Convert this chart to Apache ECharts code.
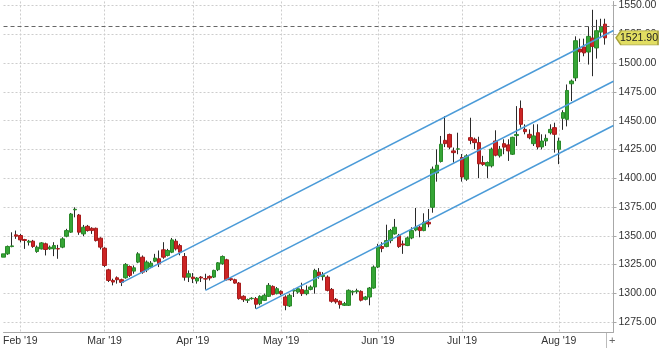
<!DOCTYPE html>
<html><head><meta charset="utf-8">
<script src="https://cdn.jsdelivr.net/npm/echarts@6/dist/echarts.min.js"></script>
<style>html,body{margin:0;padding:0;background:#fff}#c{width:660px;height:348px}</style>
</head><body><div id="c"></div>
<script>
const categories = [
'2019-01-28','2019-01-29','2019-01-30','2019-01-31',
'2019-02-01','2019-02-04','2019-02-05','2019-02-06','2019-02-07','2019-02-08','2019-02-11','2019-02-12','2019-02-13','2019-02-14','2019-02-15','2019-02-18','2019-02-19','2019-02-20','2019-02-21','2019-02-22','2019-02-25','2019-02-26','2019-02-27','2019-02-28',
'2019-03-01','2019-03-04','2019-03-05','2019-03-06','2019-03-07','2019-03-08','2019-03-11','2019-03-12','2019-03-13','2019-03-14','2019-03-15','2019-03-18','2019-03-19','2019-03-20','2019-03-21','2019-03-22','2019-03-25','2019-03-26','2019-03-27','2019-03-28','2019-03-29',
'2019-04-01','2019-04-02','2019-04-03','2019-04-04','2019-04-05','2019-04-08','2019-04-09','2019-04-10','2019-04-11','2019-04-12','2019-04-15','2019-04-16','2019-04-17','2019-04-18','2019-04-22','2019-04-23','2019-04-24','2019-04-25','2019-04-26','2019-04-29','2019-04-30',
'2019-05-01','2019-05-02','2019-05-03','2019-05-06','2019-05-07','2019-05-08','2019-05-09','2019-05-10','2019-05-13','2019-05-14','2019-05-15','2019-05-16','2019-05-17','2019-05-20','2019-05-21','2019-05-22','2019-05-23','2019-05-24','2019-05-27','2019-05-28','2019-05-29','2019-05-30','2019-05-31',
'2019-06-03','2019-06-04','2019-06-05','2019-06-06','2019-06-07','2019-06-10','2019-06-11','2019-06-12','2019-06-13','2019-06-14','2019-06-17','2019-06-18','2019-06-19','2019-06-20','2019-06-21','2019-06-24','2019-06-25','2019-06-26','2019-06-27','2019-06-28',
'2019-07-01','2019-07-02','2019-07-03','2019-07-04','2019-07-05','2019-07-08','2019-07-09','2019-07-10','2019-07-11','2019-07-12','2019-07-15','2019-07-16','2019-07-17','2019-07-18','2019-07-19','2019-07-22','2019-07-23','2019-07-24','2019-07-25','2019-07-26','2019-07-29','2019-07-30','2019-07-31',
'2019-08-01','2019-08-02','2019-08-05','2019-08-06','2019-08-07','2019-08-08','2019-08-09','2019-08-12','2019-08-13','2019-08-14','2019-08-15','2019-08-16','2019-08-19','2019-08-20'
];

const opens = [
1331.4,1334.3,1340.6,1350.8,1350.2,1346.7,1344.4,1345.3,1336.3,1338.6,
1343.0,1338.6,1338.6,1338.8,1340.1,1349.6,1353.1,1372.5,1368.0,1351.6,
1358.2,1356.5,1356.5,1347.9,1339.2,1320.4,1311.2,1313.5,1311.8,1313.5,
1323.3,1319.3,1327.1,1331.4,1320.4,1322.8,1327.9,1330.0,1337.8,1332.9,
1335.7,1345.3,1341.5,1332.0,1314.1,1314.1,1310.7,1314.1,1312.7,1314.7,
1314.1,1320.5,1325.7,1329.1,1312.7,1311.8,1308.9,1297.4,1294.0,1295.4,
1295.4,1291.0,1293.9,1297.4,1306.0,1299.7,1301.7,1296.8,1289.0,1302.0,
1301.1,1303.2,1299.7,1303.4,1305.5,1318.4,1314.5,1314.1,1303.4,1294.8,
1293.1,1289.6,1289.6,1301.1,1301.4,1301.7,1294.8,1296.8,1304.6,1322.8,
1340.6,1340.6,1345.8,1351.6,1350.2,1342.9,1341.5,1348.1,1355.0,1357.4,
1354.5,1361.7,1374.7,1404.5,1414.5,1432.9,1438.0,1423.7,1425.2,1418.0,
1399.2,1435.2,1433.8,1430.9,1413.6,1410.7,1410.7,1432.3,1419.4,1430.0,
1428.9,1420.8,1437.0,1460.6,1442.4,1438.1,1430.0,1439.5,1427.1,1432.3,
1439.5,1443.9,1425.1,1452.0,1451.1,1482.0,1487.1,1512.2,1514.0,1509.6,
1521.7,1513.1,1526.9,1533.8
];
const closes = [
1334.3,1340.7,1341.2,1349.6,1346.4,1345.9,1345.3,1340.7,1340.1,1343.8,
1338.1,1340.1,1341.5,1338.5,1347.3,1354.5,1368.9,1373.0,1353.1,1357.4,
1354.5,1354.5,1345.8,1340.1,1324.2,1311.2,1309.8,1311.8,1309.5,1325.1,
1315.6,1322.2,1334.3,1318.4,1327.1,1326.2,1330.6,1325.6,1331.4,1337.2,
1346.4,1338.6,1335.7,1314.0,1317.0,1312.7,1313.3,1313.3,1312.4,1313.3,
1319.9,1326.5,1332.0,1311.8,1311.8,1308.9,1295.4,1294.5,1294.5,1295.7,
1290.5,1297.4,1298.3,1306.9,1299.1,1304.0,1299.7,1289.6,1298.3,1302.6,
1304.0,1299.7,1302.6,1305.5,1319.9,1315.0,1316.0,1302.6,1293.1,1292.5,
1290.2,1291.0,1302.6,1301.7,1302.3,1294.0,1296.8,1304.6,1322.8,1340.5,
1339.0,1345.8,1354.5,1357.4,1340.6,1342.0,1348.1,1354.5,1357.4,1354.5,
1361.7,1360.2,1407.8,1411.3,1429.5,1430.0,1427.0,1422.2,1425.5,1401.0,
1419.4,1432.9,1430.9,1412.5,1412.0,1413.6,1425.2,1420.0,1425.2,1427.0,
1423.7,1435.5,1438.0,1446.8,1440.4,1435.2,1436.7,1427.1,1432.3,1434.6,
1442.4,1438.1,1432.3,1457.0,1476.2,1484.4,1519.4,1509.6,1508.8,1523.2,
1514.5,1528.1,1531.8,1521.9
];
const lows = [
1329.4,1333.4,1340.0,1347.3,1344.4,1338.6,1341.5,1339.5,1335.2,1338.1,
1332.9,1337.8,1332.3,1330.0,1339.2,1348.7,1352.5,1366.0,1350.8,1349.6,
1353.6,1351.6,1345.0,1338.1,1322.8,1309.8,1306.9,1308.4,1306.3,1312.7,
1314.1,1317.0,1326.2,1317.0,1318.4,1321.9,1327.1,1322.8,1330.0,1332.0,
1334.9,1337.2,1333.0,1311.0,1309.8,1308.9,1308.4,1309.8,1303.2,1311.2,
1313.3,1319.3,1324.8,1311.2,1310.7,1308.4,1294.5,1292.5,1291.6,1294.5,
1286.7,1289.6,1293.3,1296.8,1298.3,1299.1,1298.3,1285.3,1288.1,1296.8,
1299.7,1297.7,1298.3,1302.6,1299.7,1312.7,1311.2,1301.7,1291.9,1291.0,
1286.7,1289.0,1289.0,1298.3,1299.7,1293.0,1293.9,1289.6,1304.0,1321.9,
1335.7,1340.0,1343.5,1351.0,1339.5,1334.3,1341.0,1347.0,1353.9,1348.7,
1353.9,1357.4,1370.0,1397.0,1413.6,1427.0,1425.2,1413.6,1420.8,1397.0,
1397.7,1429.5,1425.2,1400.0,1410.7,1400.0,1409.3,1419.0,1417.9,1420.8,
1415.0,1420.2,1428.0,1443.9,1438.1,1433.8,1428.0,1425.0,1425.0,1428.0,
1438.0,1422.2,1412.2,1442.0,1445.0,1467.0,1484.3,1501.0,1505.9,1498.7,
1488.6,1503.9,1521.7,1516.0
];
const highs = [
1335.8,1341.5,1353.0,1354.5,1351.6,1347.3,1346.4,1346.4,1341.5,1344.4,
1344.0,1341.5,1344.4,1342.1,1348.7,1356.0,1369.8,1374.7,1368.9,1359.4,
1359.4,1357.4,1357.1,1348.7,1340.1,1321.3,1312.7,1314.7,1312.7,1326.2,
1324.2,1324.2,1335.7,1332.9,1328.5,1328.0,1334.3,1337.2,1344.4,1338.6,
1348.1,1347.3,1343.0,1335.0,1319.9,1317.6,1314.1,1315.0,1317.0,1315.6,
1320.5,1327.1,1332.9,1330.0,1313.5,1312.7,1309.8,1298.3,1295.4,1296.6,
1296.8,1298.3,1299.7,1308.9,1306.9,1305.5,1302.6,1298.3,1299.7,1304.0,
1305.5,1309.2,1306.9,1306.9,1321.3,1321.9,1318.4,1315.6,1304.6,1295.9,
1293.9,1292.5,1303.4,1302.6,1304.0,1302.6,1297.7,1305.5,1324.2,1343.0,
1344.4,1359.6,1355.9,1364.6,1351.6,1345.8,1349.3,1357.4,1374.1,1358.8,
1369.5,1373.2,1410.1,1425.0,1436.7,1454.0,1438.7,1426.6,1439.5,1421.0,
1420.8,1452.5,1435.2,1436.0,1419.4,1414.5,1426.6,1441.6,1428.0,1433.8,
1433.8,1436.0,1462.6,1467.5,1446.8,1442.4,1446.8,1446.8,1438.1,1438.0,
1446.8,1448.2,1435.2,1459.0,1481.4,1485.7,1523.2,1521.2,1521.2,1531.8,
1546.3,1537.6,1538.5,1538.5
];

const yTicks = [1275,1300,1325,1350,1375,1400,1425,1450,1475,1500,1525,1550];
const monthNames = ['Jan','Feb','Mar','Apr','May','Jun','Jul','Aug','Sep','Oct','Nov','Dec'];
const lastPrice = 1521.90;
const prevClose = 1531.8;

const trendStartDates = ['2019-03-07','2019-04-04','2019-04-23'];
const trendStartValues = [1309.0, 1302.5, 1286.5];
const trendEndDate = '2019-08-20';
const trendEndValues = [1528.3, 1484.2, 1445.8];

const FONT = 'Liberation Sans';
function isMonthStart(i){ return i > 0 && categories[i].slice(5,7) !== categories[i-1].slice(5,7); }

const wickData = opens.map((o,i)=>[o, closes[i], lows[i], highs[i]]);
const bodyData = opens.map((o,i)=>[o, closes[i], Math.min(o,closes[i]), Math.max(o,closes[i])]);

const trendSeries = trendStartDates.map((d,k)=>({
  type:'line', silent:true, symbol:'none', z:5,
  lineStyle:{color:'#4b9bd8', width:1.5},
  data:[[d, trendStartValues[k]], [trendEndDate, trendEndValues[k]]]
}));

const chart = echarts.init(document.getElementById('c'), null, {renderer:'canvas'});
chart.setOption({
  animation:false,
  backgroundColor:'#ffffff',
  grid:{left:0.5, right:46.5, top:0, bottom:16, containLabel:false},
  xAxis:{
    type:'category', data:categories, boundaryGap:false,
    axisLine:{show:true, lineStyle:{color:'#a8a8a8', width:1}},
    axisTick:{show:false},
    axisLabel:{interval:(i)=>isMonthStart(i), color:'#333', fontFamily:FONT, fontSize:10.5, margin:4,
      formatter:(v)=> monthNames[parseInt(v.slice(5,7),10)-1] + " '" + v.slice(2,4)},
    splitLine:{show:true, interval:(i)=>isMonthStart(i), lineStyle:{color:'#cdcdcd', type:[2,2], width:1}}
  },
  yAxis:{
    type:'value', position:'right', min:1266.4, max:1553.5, scale:true,
    axisLine:{show:true, lineStyle:{color:'#a8a8a8', width:1}},
    axisTick:{show:true, length:3, customValues:yTicks, lineStyle:{color:'#a8a8a8'}},
    axisLabel:{customValues:yTicks, color:'#333', fontFamily:FONT, fontSize:10.5, margin:5,
      formatter:(v)=> Number(v).toFixed(2)},
    splitLine:{show:true, lineStyle:{color:'#cdcdcd', type:[2,2], width:1}}
  },
  series:[
    ...trendSeries,
    {type:'candlestick', name:'wick', data:wickData, barWidth:1, silent:true, z:2,
     itemStyle:{color:'#2a2a2a', color0:'#2a2a2a', borderColor:'#2a2a2a', borderColor0:'#2a2a2a', borderWidth:1}},
    {type:'candlestick', name:'body', data:bodyData, barWidth:4, silent:true, z:3,
     itemStyle:{color:'#35a535', color0:'#cc2424', borderColor:'#2a8a2a', borderColor0:'#a81c1c', borderWidth:1},
     markLine:{silent:true, symbol:['none','none'], label:{show:false},
       lineStyle:{color:'#666', type:[4,3], width:1}, data:[{yAxis:prevClose}]},
     markPoint:{silent:true, data:[{coord:[trendEndDate, lastPrice], value:lastPrice}],
       symbol:'path://M0,7 L5,0 L43,0 L43,14 L5,14 Z', symbolSize:[42,14], symbolKeepAspect:false,
       symbolOffset:[23.5,0],
       itemStyle:{color:'#e2de62', borderColor:'#a9a33a', borderWidth:1},
       label:{show:true, position:'inside', offset:[2,0], color:'#222', fontFamily:FONT, fontSize:10.5,
         formatter:()=> lastPrice.toFixed(2)}}
    }
  ],
  graphic:[
    {type:'line', shape:{x1:606.5, y1:333, x2:606.5, y2:348}, style:{stroke:'#bbb', lineWidth:1}},
    {type:'text', left:609, top:335, style:{text:'+', fill:'#666', font:'11px Liberation Sans'}}
  ]
});
</script></body></html>
